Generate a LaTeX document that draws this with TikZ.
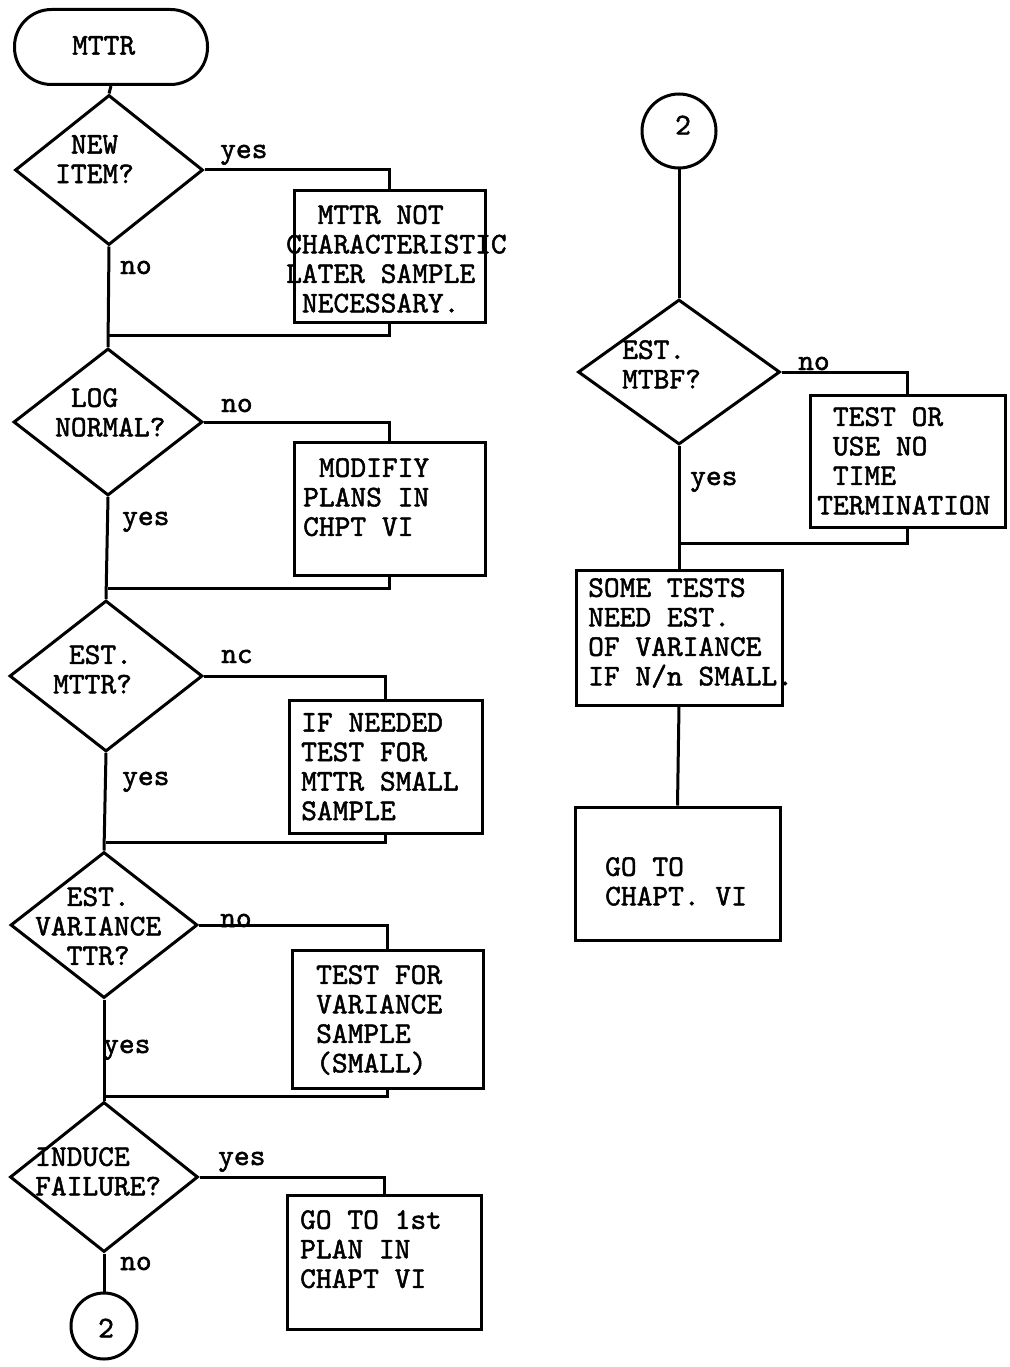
\documentclass[tikz,border=0pt]{standalone}
\usepackage{fontspec}
\usetikzlibrary{shapes.geometric}
\newfontfamily\tw[FakeBold=1.6]{lmmono10-regular.otf}
\begin{document}
\begin{tikzpicture}[x=1pt,y=-1pt,
  every node/.style={font=\tw\fontsize{30}{29.5}\selectfont, inner sep=0pt},
  ln/.style={line width=3pt},
  boxshape/.style={draw, line width=3pt, rectangle},
  decshape/.style={draw, line width=3pt, diamond},
  conn/.style={draw, line width=3pt, circle, minimum size=#1},
  txt/.style={anchor=north west, align=left},
  lbl/.style={anchor=base west}
]
\useasboundingbox (0,0) rectangle (1009,1367);

% terminal
\node[draw, line width=3pt, rectangle, rounded corners=37pt, minimum width=193pt, minimum height=75pt] (term) at (111,47) {};
\node[txt] (tterm) at (72,36) {MTTR};

% left column decisions
\node[decshape, minimum width=188pt, minimum height=150pt] (d1) at (109,170) {};
\node[txt] (td1) at (55,135) {\phantom{X}NEW\\ITEM?};
\node[decshape, minimum width=189pt, minimum height=147pt] (d2) at (108,422) {};
\node[txt] (td2) at (55,388) {\phantom{X}LOG\\NORMAL?};
\node[decshape, minimum width=193pt, minimum height=151pt] (d3) at (106,676) {};
\node[txt] (td3) at (53,645) {\phantom{X}EST.\\MTTR?};
\node[decshape, minimum width=187pt, minimum height=146pt] (d4) at (104,925) {};
\node[txt] (td4) at (35,887) {\phantom{XX}EST.\\VARIANCE\\\phantom{XX}TTR?};
\node[decshape, minimum width=188pt, minimum height=150pt] (d5) at (104,1177) {};
\node[txt] (td5) at (35,1147) {INDUCE\\FAILURE?};
\node[conn=66pt] (c1) at (104,1326) {};
\node (tc1) at (106,1328) {2};

% left column boxes
\node[boxshape, minimum width=191pt, minimum height=131pt] (b1) at (389.5,256.5) {};
\node[txt] (tb1) at (286,205) {\phantom{XX}MTTR NOT\\CHARACTERISTIC\\LATER SAMPLE\\\phantom{X}NECESSARY.};
\node[boxshape, minimum width=191pt, minimum height=133pt] (b2) at (389.5,508.5) {};
\node[txt] (tb2) at (303,458) {\phantom{X}MODIFIY\\PLANS IN\\CHPT VI};
\node[boxshape, minimum width=193pt, minimum height=133pt] (b3) at (385.5,766.5) {};
\node[txt] (tb3) at (301,713) {IF NEEDED\\TEST FOR\\MTTR SMALL\\SAMPLE};
\node[boxshape, minimum width=191pt, minimum height=138pt] (b4) at (387.5,1019) {};
\node[txt] (tb4) at (316,965) {TEST FOR\\VARIANCE\\SAMPLE\\(SMALL)};
\node[boxshape, minimum width=194pt, minimum height=134pt] (b5) at (384,1262) {};
\node[txt] (tb5) at (300,1210) {GO TO 1st\\PLAN IN\\CHAPT VI};

% right column
\node[conn=74pt] (c2) at (679,131) {};
\node (tc2) at (683,125) {2};
\node[decshape, minimum width=202pt, minimum height=145pt] (d6) at (679,372) {};
\node[txt] (td6) at (622,340) {EST.\\MTBF?};
\node[boxshape, minimum width=195pt, minimum height=132pt] (b6) at (907.5,461) {};
\node[txt] (tb6) at (817,407) {\phantom{X}TEST OR\\\phantom{X}USE NO\\\phantom{X}TIME\\TERMINATION};
\node[boxshape, minimum width=206pt, minimum height=135pt] (b7) at (679,637.5) {};
\node[txt] (tb7) at (588,578) {SOME TESTS\\NEED EST.\\OF VARIANCE\\IF N/n SMALL.};
\node[boxshape, minimum width=205pt, minimum height=133pt] (b8) at (677.5,873.5) {};
\node[txt] (tb8) at (605,857) {GO TO\\CHAPT. VI};

% return points
\coordinate (r1) at (108,335);
\coordinate (r2) at (108,588);
\coordinate (r3) at (106,842);
\coordinate (r4) at (104,1096);
\coordinate (r6) at (679,543);

% main flow
\draw[ln] (term.south) -- (d1.north);
\draw[ln] (d1.south) -- (d2.north);
\draw[ln] (d2.south) -- (d3.north);
\draw[ln] (d3.south) -- (d4.north);
\draw[ln] (d4.south) -- (d5.north);
\draw[ln] (d5.south) -- (c1.north);
\draw[ln] (c2.south) -- (d6.north);
\draw[ln] (d6.south) -- (b7.north);
\draw[ln] (b7.south) -- (b8.north);

% side branches
\draw[ln] (d1.east) -| (b1.north);
\draw[ln] (b1.south) |- (r1);
\draw[ln] (d2.east) -| (b2.north);
\draw[ln] (b2.south) |- (r2);
\draw[ln] (d3.east) -| (b3.north);
\draw[ln] (b3.south) |- (r3);
\draw[ln] (d4.east) -| (b4.north);
\draw[ln] (b4.south) |- (r4);
\draw[ln] (d5.east) -| (b5.north);
\draw[ln] (d6.east) -| (b6.north);
\draw[ln] (b6.south) |- (r6);

% labels
\node[lbl] (l1y) at (220,158) {yes};
\node[lbl] (l1n) at (120,274) {no};
\node[lbl] (l2n) at (221,412) {no};
\node[lbl] (l2y) at (122,525) {yes};
\node[lbl] (l3n) at (221,663) {nc};
\node[lbl] (l3y) at (122,785) {yes};
\node[lbl] (l4n) at (220,927) {no};
\node[lbl] (l4y) at (103,1053) {yes};
\node[lbl] (l5y) at (218,1165) {yes};
\node[lbl] (l5n) at (120,1270) {no};
\node[lbl] (l6n) at (798,370) {no};
\node[lbl] (l6y) at (690,485) {yes};
\end{tikzpicture}
\end{document}
